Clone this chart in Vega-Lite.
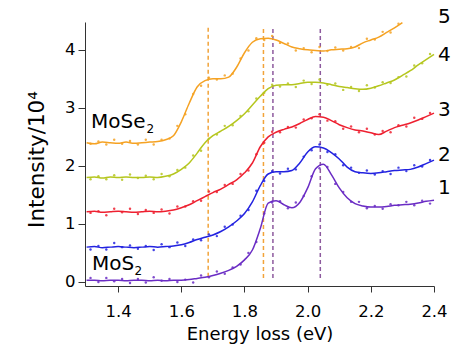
{
"$schema": "https://vega.github.io/schema/vega-lite/v6.json",
"width": 349, "height": 264,
"autosize": {"type": "none"},
"padding": {"left": 85, "top": 22, "right": 20, "bottom": 58},
"config": {"view": {"stroke": null}, "font": "DejaVu Sans"},
"datasets": {
"lines": [
{"x":1.300,"1":0.03,"2":0.60,"3":1.21,"4":1.80,"5":2.40},
{"x":1.325,"1":0.03,"2":0.61,"3":1.22,"4":1.81,"5":2.38},
{"x":1.350,"1":0.02,"2":0.59,"3":1.20,"4":1.79,"5":2.41},
{"x":1.375,"1":0.03,"2":0.60,"3":1.21,"4":1.81,"5":2.40},
{"x":1.400,"1":0.03,"2":0.61,"3":1.22,"4":1.80,"5":2.39},
{"x":1.425,"1":0.02,"2":0.60,"3":1.21,"4":1.81,"5":2.41},
{"x":1.450,"1":0.03,"2":0.59,"3":1.20,"4":1.80,"5":2.39},
{"x":1.475,"1":0.03,"2":0.60,"3":1.21,"4":1.80,"5":2.40},
{"x":1.500,"1":0.02,"2":0.61,"3":1.22,"4":1.81,"5":2.41},
{"x":1.525,"1":0.03,"2":0.60,"3":1.21,"4":1.80,"5":2.42},
{"x":1.550,"1":0.02,"2":0.61,"3":1.22,"4":1.82,"5":2.45},
{"x":1.575,"1":0.03,"2":0.62,"3":1.24,"4":1.86,"5":2.52},
{"x":1.600,"1":0.03,"2":0.64,"3":1.28,"4":1.94,"5":2.76},
{"x":1.625,"1":0.04,"2":0.68,"3":1.33,"4":2.05,"5":3.08},
{"x":1.650,"1":0.06,"2":0.73,"3":1.40,"4":2.22,"5":3.36},
{"x":1.675,"1":0.08,"2":0.77,"3":1.47,"4":2.40,"5":3.47},
{"x":1.700,"1":0.11,"2":0.81,"3":1.54,"4":2.52,"5":3.50},
{"x":1.725,"1":0.15,"2":0.87,"3":1.60,"4":2.60,"5":3.50},
{"x":1.750,"1":0.20,"2":0.95,"3":1.68,"4":2.68,"5":3.53},
{"x":1.775,"1":0.27,"2":1.05,"3":1.76,"4":2.78,"5":3.70},
{"x":1.800,"1":0.38,"2":1.18,"3":1.88,"4":2.90,"5":3.95},
{"x":1.825,"1":0.55,"2":1.38,"3":2.05,"4":3.05,"5":4.13},
{"x":1.850,"1":0.92,"2":1.66,"3":2.33,"4":3.20,"5":4.19},
{"x":1.875,"1":1.36,"2":1.86,"3":2.50,"4":3.33,"5":4.20},
{"x":1.900,"1":1.40,"2":1.90,"3":2.58,"4":3.39,"5":4.17},
{"x":1.925,"1":1.33,"2":1.90,"3":2.63,"4":3.40,"5":4.11},
{"x":1.950,"1":1.28,"2":1.92,"3":2.67,"4":3.40,"5":4.05},
{"x":1.975,"1":1.37,"2":2.05,"3":2.73,"4":3.42,"5":4.02},
{"x":2.000,"1":1.62,"2":2.24,"3":2.80,"4":3.44,"5":4.00},
{"x":2.025,"1":1.95,"2":2.33,"3":2.85,"4":3.44,"5":3.99},
{"x":2.050,"1":2.03,"2":2.31,"3":2.84,"4":3.43,"5":3.98},
{"x":2.075,"1":1.85,"2":2.23,"3":2.78,"4":3.40,"5":4.00},
{"x":2.100,"1":1.62,"2":2.12,"3":2.71,"4":3.37,"5":4.01},
{"x":2.125,"1":1.45,"2":1.98,"3":2.66,"4":3.35,"5":4.02},
{"x":2.150,"1":1.35,"2":1.90,"3":2.62,"4":3.33,"5":4.05},
{"x":2.175,"1":1.31,"2":1.88,"3":2.60,"4":3.32,"5":4.12},
{"x":2.200,"1":1.29,"2":1.87,"3":2.57,"4":3.34,"5":4.17},
{"x":2.225,"1":1.29,"2":1.88,"3":2.54,"4":3.38,"5":4.22},
{"x":2.250,"1":1.30,"2":1.90,"3":2.60,"4":3.43,"5":4.30},
{"x":2.275,"1":1.32,"2":1.92,"3":2.66,"4":3.48,"5":4.38},
{"x":2.300,"1":1.33,"2":1.93,"3":2.70,"4":3.56,"5":4.47},
{"x":2.325,"1":1.34,"2":1.94,"3":2.74,"4":3.64},
{"x":2.350,"1":1.36,"2":1.98,"3":2.79,"4":3.74},
{"x":2.375,"1":1.39,"2":2.04,"3":2.85,"4":3.83},
{"x":2.400,"1":1.41,"2":2.10,"3":2.91,"4":3.92}
],
"dots": [
{"x":1.3125,"1":0.07,"2":0.56,"3":1.19,"4":1.77,"5":2.38},
{"x":1.3375,"1":0.00,"2":0.62,"3":1.22,"4":1.82,"5":2.42},
{"x":1.3625,"1":0.07,"2":0.56,"3":1.15,"4":1.77,"5":2.37},
{"x":1.3875,"1":0.01,"2":0.67,"3":1.26,"4":1.84,"5":2.45},
{"x":1.4125,"1":0.05,"2":0.60,"3":1.20,"4":1.76,"5":2.38},
{"x":1.4375,"1":-0.02,"2":0.63,"3":1.26,"4":1.85,"5":2.43},
{"x":1.4625,"1":0.05,"2":0.57,"3":1.17,"4":1.79,"5":2.37},
{"x":1.4875,"1":-0.01,"2":0.62,"3":1.24,"4":1.83,"5":2.45},
{"x":1.5125,"1":0.08,"2":0.55,"3":1.19,"4":1.77,"5":2.37},
{"x":1.5375,"1":0.02,"2":0.65,"3":1.25,"4":1.86,"5":2.45},
{"x":1.5625,"1":0.05,"2":0.60,"3":1.18,"4":1.82,"5":2.47},
{"x":1.5875,"1":0.00,"2":0.68,"3":1.30,"4":1.93,"5":2.69},
{"x":1.6125,"1":0.04,"2":0.62,"3":1.30,"4":1.97,"5":2.89},
{"x":1.6375,"1":-0.01,"2":0.73,"3":1.39,"4":2.18,"5":3.24},
{"x":1.6625,"1":0.11,"2":0.72,"3":1.40,"4":2.26,"5":3.38},
{"x":1.6875,"1":0.08,"2":0.82,"3":1.56,"4":2.47,"5":3.52},
{"x":1.7125,"1":0.18,"2":0.79,"3":1.55,"4":2.54,"5":3.49},
{"x":1.7375,"1":0.14,"2":0.95,"3":1.67,"4":2.69,"5":3.56},
{"x":1.7625,"1":0.25,"2":0.99,"3":1.69,"4":2.70,"5":3.59},
{"x":1.7875,"1":0.30,"2":1.14,"3":1.86,"4":2.86,"5":3.85},
{"x":1.8125,"1":0.50,"2":1.24,"3":1.92,"4":2.94,"5":3.99},
{"x":1.8375,"1":0.69,"2":1.57,"3":2.20,"4":3.16,"5":4.20},
{"x":1.8625,"1":1.18,"2":1.74,"3":2.40,"4":3.26,"5":4.17},
{"x":1.8875,"1":1.37,"2":1.91,"3":2.59,"4":3.40,"5":4.24},
{"x":1.9125,"1":1.39,"2":1.87,"3":2.58,"4":3.37,"5":4.12},
{"x":1.9375,"1":1.27,"2":1.95,"3":2.67,"4":3.42,"5":4.11},
{"x":1.9625,"1":1.37,"2":1.94,"3":2.66,"4":3.36,"5":3.99},
{"x":1.9875,"1":1.48,"2":2.16,"3":2.80,"4":3.47,"5":4.03},
{"x":2.0125,"1":1.82,"2":2.27,"3":2.82,"4":3.41,"5":3.96},
{"x":2.0375,"1":1.96,"2":2.37,"3":2.89,"4":3.49,"5":4.05},
{"x":2.0625,"1":1.98,"2":2.24,"3":2.78,"4":3.40,"5":3.98},
{"x":2.0875,"1":1.69,"2":2.20,"3":2.77,"4":3.42,"5":4.04},
{"x":2.1125,"1":1.55,"2":2.01,"3":2.64,"4":3.31,"5":3.99},
{"x":2.1375,"1":1.38,"2":1.97,"3":2.68,"4":3.36,"5":4.05},
{"x":2.1625,"1":1.38,"2":1.88,"3":2.58,"4":3.29,"5":4.03},
{"x":2.1875,"1":1.27,"2":1.92,"3":2.64,"4":3.39,"5":4.19},
{"x":2.2125,"1":1.31,"2":1.85,"3":2.54,"4":3.35,"5":4.18},
{"x":2.2375,"1":1.26,"2":1.91,"3":2.60,"4":3.44,"5":4.31},
{"x":2.2625,"1":1.34,"2":1.86,"3":2.58,"4":3.43,"5":4.30},
{"x":2.2875,"1":1.32,"2":1.97,"3":2.70,"4":3.53,"5":4.45},
{"x":2.3125,"1":1.38,"2":1.91,"3":2.68,"4":3.54},
{"x":2.3375,"1":1.32,"2":2.01,"3":2.83,"4":3.73},
{"x":2.3625,"1":1.40,"2":1.99,"3":2.81,"4":3.77},
{"x":2.3875,"1":1.35,"2":2.10,"3":2.91,"4":3.93}
],
"vSe": [
{"x":1.685,"y0":0.09,"y1":4.43},
{"x":1.860,"y0":0.07,"y1":4.40}
],
"vS": [
{"x":1.890,"y0":0.07,"y1":4.40},
{"x":2.040,"y0":0.07,"y1":4.40}
],
"nums": [
{"x":2.433,"y":4.57,"t":"5"},
{"x":2.433,"y":3.91,"t":"4"},
{"x":2.433,"y":2.97,"t":"3"},
{"x":2.433,"y":2.19,"t":"2"},
{"x":2.433,"y":1.62,"t":"1"}
],
"names": [
{"x":1.314,"y":2.655,"t":"MoSe"},
{"x":1.317,"y":0.207,"t":"MoS"}
],
"subs": [
{"x":1.490,"y":2.57,"t":"2"},
{"x":1.452,"y":0.12,"t":"2"}
]
},
"layer": [
{"data": {"name": "vSe"},
 "mark": {"type": "rule", "strokeDash": [4, 3], "strokeWidth": 1.5, "color": "#f2a33a"},
 "encoding": {
  "x": {"field": "x", "type": "quantitative",
   "scale": {"domain": [1.295, 2.4], "nice": false, "zero": false},
   "axis": {"values": [1.4, 1.6, 1.8, 2.0, 2.2, 2.4], "format": ".1f", "title": "Energy loss (eV)", "grid": false,
    "tickSize": 6, "labelPadding": 11, "labelFontSize": 16.5, "labelFlush": false, "labelOverlap": false,
    "titleFontSize": 18, "titleFontWeight": "normal", "titleY": 53, "titleBaseline": "alphabetic",
    "domainColor": "#333", "tickColor": "#333", "labelColor": "#000", "titleColor": "#000"}},
  "y": {"field": "y0", "type": "quantitative",
   "scale": {"domain": [-0.07, 4.48], "nice": false, "zero": false},
   "axis": {"values": [0, 1, 2, 3, 4], "format": "d", "title": "Intensity/10⁴", "grid": false,
    "tickSize": 7, "labelPadding": 3, "labelFontSize": 16.5, "labelOverlap": false,
    "titleFontSize": 21.5, "titleFontWeight": "normal", "titleX": -42, "titleY": 137, "titleAlign": "center", "titleBaseline": "alphabetic",
    "domainColor": "#333", "tickColor": "#333", "labelColor": "#000", "titleColor": "#000"}},
  "y2": {"field": "y1"}
 }},
{"data": {"name": "vS"},
 "mark": {"type": "rule", "strokeDash": [4, 3], "strokeWidth": 1.5, "color": "#8d5a9e"},
 "encoding": {
  "x": {"field": "x", "type": "quantitative"},
  "y": {"field": "y0", "type": "quantitative"},
  "y2": {"field": "y1"}
 }},
{"data": {"name": "dots"},
 "transform": [{"fold": ["1", "2", "3", "4", "5"], "as": ["s", "v"]}, {"filter": "isValid(datum.v)"}],
 "mark": {"type": "circle", "size": 6, "opacity": 0.85},
 "encoding": {
  "x": {"field": "x", "type": "quantitative"},
  "y": {"field": "v", "type": "quantitative"},
  "color": {"field": "s", "type": "nominal",
   "scale": {"domain": ["1", "2", "3", "4", "5"], "range": ["#6a2cc4", "#2222e0", "#ee2030", "#b5c61e", "#f5a223"]},
   "legend": null}
 }},
{"data": {"name": "lines"},
 "transform": [{"fold": ["1", "2", "3", "4", "5"], "as": ["s", "v"]}, {"filter": "isValid(datum.v)"}],
 "mark": {"type": "line", "strokeWidth": 1.5, "interpolate": "monotone"},
 "encoding": {
  "x": {"field": "x", "type": "quantitative"},
  "y": {"field": "v", "type": "quantitative"},
  "color": {"field": "s", "type": "nominal", "legend": null}
 }},
{"data": {"name": "nums"},
 "mark": {"type": "text", "fontSize": 20, "align": "center", "baseline": "middle", "color": "#000"},
 "encoding": {
  "x": {"field": "x", "type": "quantitative"},
  "y": {"field": "y", "type": "quantitative"},
  "text": {"field": "t"}
 }},
{"data": {"name": "names"},
 "mark": {"type": "text", "fontSize": 20, "align": "left", "baseline": "alphabetic", "color": "#000"},
 "encoding": {
  "x": {"field": "x", "type": "quantitative"},
  "y": {"field": "y", "type": "quantitative"},
  "text": {"field": "t"}
 }},
{"data": {"name": "subs"},
 "mark": {"type": "text", "fontSize": 12, "align": "left", "baseline": "alphabetic", "color": "#000"},
 "encoding": {
  "x": {"field": "x", "type": "quantitative"},
  "y": {"field": "y", "type": "quantitative"},
  "text": {"field": "t"}
 }}
]
}
